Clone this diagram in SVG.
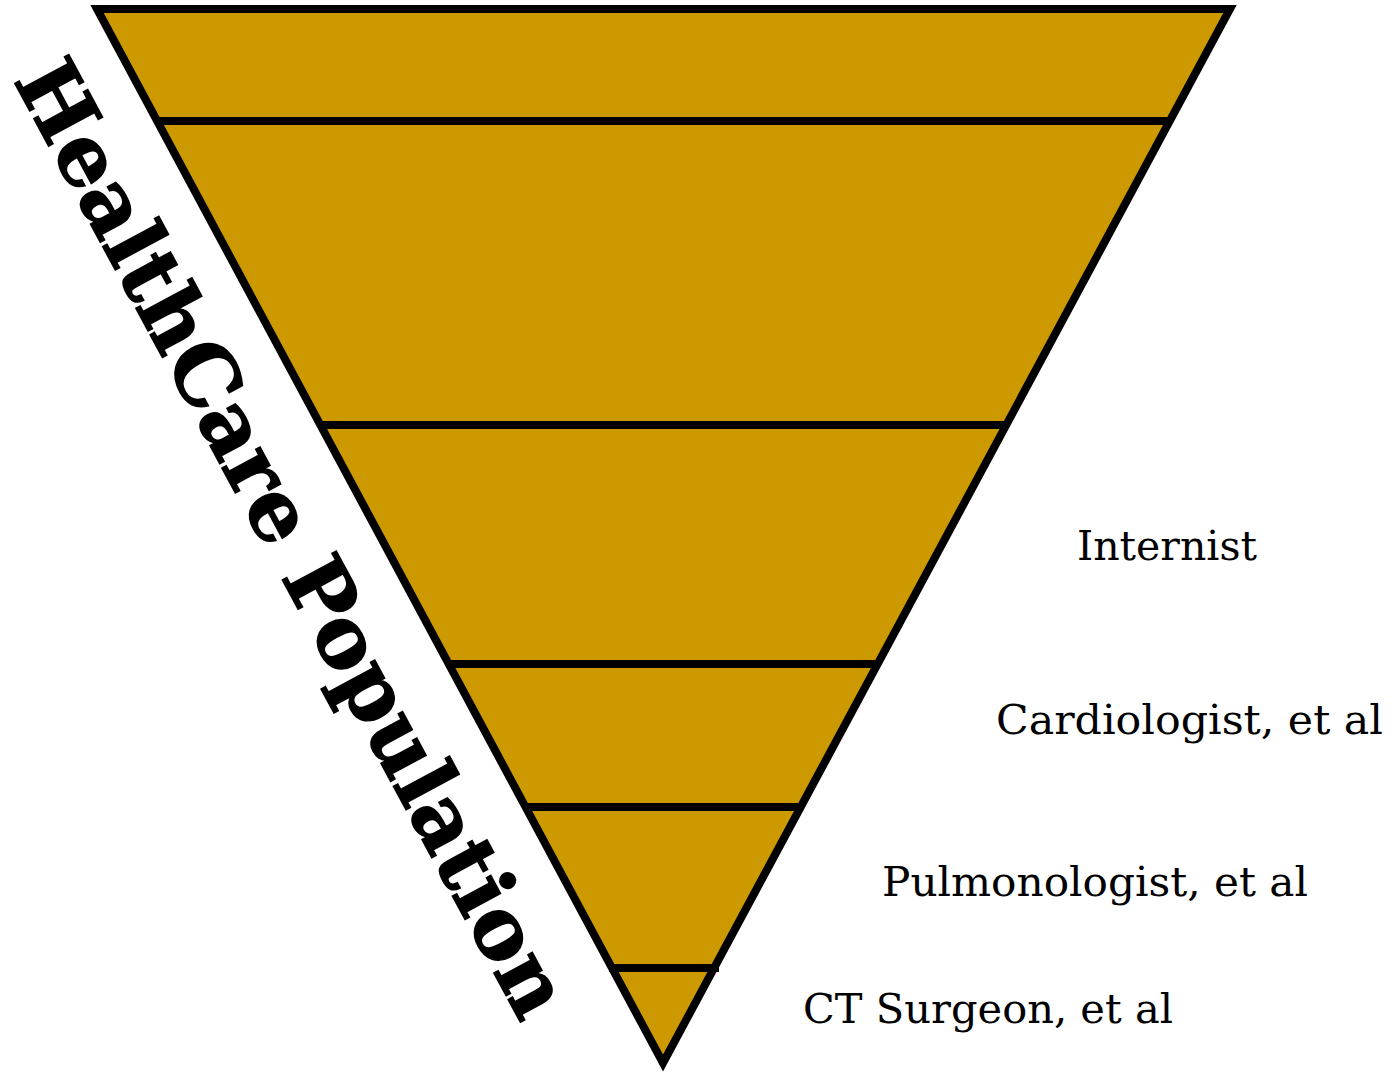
<svg xmlns="http://www.w3.org/2000/svg" width="1392" height="1074" viewBox="0 0 1392 1074">
<style>
.lbl{font-family:"DejaVu Serif","Liberation Serif",serif;font-size:41px;fill:#000}
.ttl{font-family:"DejaVu Serif","Liberation Serif",serif;font-size:84px;font-weight:bold;fill:#000;stroke:#000;stroke-width:1.5}
.edge{stroke:#000;stroke-width:8;fill:none}
</style>
<rect width="1392" height="1074" fill="#fff"/>
<g id="pyramid">
<polygon points="97,9 1230,9 663,1063" fill="#CC9900" stroke="#000" stroke-width="8" stroke-miterlimit="10"/>
</g>
<g id="connectors">
<line class="edge" x1="159" y1="121" x2="1170" y2="121"/>
<line class="edge" x1="320" y1="425" x2="1006" y2="425"/>
<line class="edge" x1="448" y1="664" x2="878" y2="664"/>
<line class="edge" x1="525" y1="807" x2="801" y2="807"/>
<line class="edge" x1="609" y1="968" x2="719" y2="968"/>
</g>
<g id="title">
<text class="ttl" transform="translate(13,80) rotate(61.7)" textLength="1072" lengthAdjust="spacingAndGlyphs">HealthCare Population</text>
</g>
<g id="internist"><text class="lbl" x="1077" y="560" textLength="180" lengthAdjust="spacingAndGlyphs">Internist</text></g>
<g id="cardiologist"><text class="lbl" x="996" y="734" textLength="387" lengthAdjust="spacingAndGlyphs">Cardiologist, et al</text></g>
<g id="pulmonologist"><text class="lbl" x="882" y="896" textLength="426" lengthAdjust="spacingAndGlyphs">Pulmonologist, et al</text></g>
<g id="ctsurgeon"><text class="lbl" x="803" y="1023" textLength="370" lengthAdjust="spacingAndGlyphs">CT Surgeon, et al</text></g>
</svg>
